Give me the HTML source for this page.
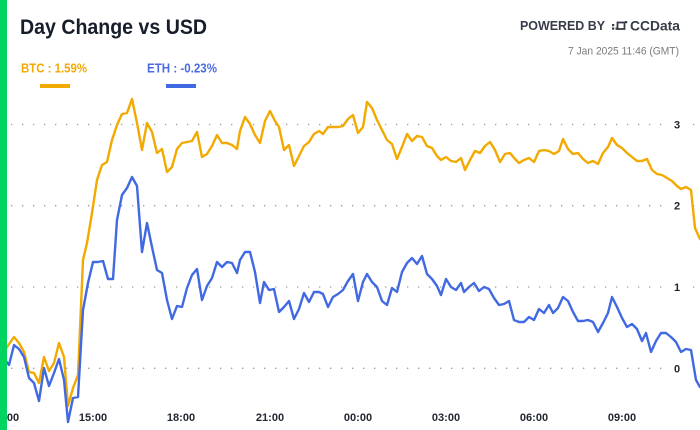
<!DOCTYPE html>
<html>
<head>
<meta charset="utf-8">
<style>
  html, body { margin: 0; padding: 0; background: #ffffff; }
  body { width: 700px; height: 430px; overflow: hidden; }
  svg { display: block; font-family: "Liberation Sans", "DejaVu Sans", sans-serif; }
</style>
</head>
<body>
<svg width="700" height="430" viewBox="0 0 700 430" xmlns="http://www.w3.org/2000/svg">
  <rect x="0" y="0" width="700" height="430" fill="#ffffff"/>

  <!-- Title -->
  <text x="20" y="34" font-size="21" font-weight="bold" fill="#161d2b" textLength="187" lengthAdjust="spacingAndGlyphs">Day Change vs USD</text>

  <!-- Powered by -->
  <text x="520" y="30" font-size="12.5" font-weight="bold" fill="#363c48" textLength="85" lengthAdjust="spacingAndGlyphs">POWERED BY</text>
  <g fill="#363c48">
    <rect x="612" y="27.5" width="2.2" height="2.2"/>
    <rect x="615.5" y="27.5" width="2.2" height="2.2"/>
    <rect x="612" y="24" width="2.2" height="2.2"/>
    <rect x="625" y="21" width="2.2" height="2.2"/>
  </g>
  <rect x="617.5" y="22.5" width="7" height="6.5" fill="none" stroke="#363c48" stroke-width="1.8"/>
  <text x="630" y="30.5" font-size="14" font-weight="bold" fill="#363c48" textLength="50" lengthAdjust="spacingAndGlyphs">CCData</text>
  <text x="568" y="54.5" font-size="11" fill="#7a7a7a" textLength="111" lengthAdjust="spacingAndGlyphs">7 Jan 2025 11:46 (GMT)</text>

  <!-- Legend -->
  <text x="21" y="72.5" font-size="12.5" font-weight="bold" fill="#f2a900" textLength="66" lengthAdjust="spacingAndGlyphs">BTC : 1.59%</text>
  <rect x="40" y="84" width="30" height="4" fill="#f2a900"/>
  <text x="147" y="72.5" font-size="12.5" font-weight="bold" fill="#4a6be0" textLength="70" lengthAdjust="spacingAndGlyphs">ETH : -0.23%</text>
  <rect x="166" y="84" width="30" height="4" fill="#4169e1"/>

  <!-- Grid -->
  <g stroke="#9a9a9a" stroke-width="1.3" stroke-dasharray="1.3 9.7">
    <line x1="11" y1="124.5" x2="700" y2="124.5"/>
    <line x1="11" y1="205.7" x2="700" y2="205.7"/>
    <line x1="11" y1="287" x2="700" y2="287"/>
    <line x1="11" y1="368.3" x2="700" y2="368.3"/>
  </g>
  <g fill="#ffffff">
    <rect x="670" y="118" width="14" height="13"/>
    <rect x="670" y="199" width="14" height="13"/>
    <rect x="670" y="280" width="14" height="13"/>
    <rect x="670" y="362" width="14" height="13"/>
  </g>
  <g font-size="11" font-weight="bold" fill="#222831" text-anchor="middle">
    <text x="677" y="128.5">3</text>
    <text x="677" y="209.7">2</text>
    <text x="677" y="291">1</text>
    <text x="677" y="372.3">0</text>
  </g>

  <!-- BTC -->
  <polyline fill="none" stroke="#f2a900" stroke-width="2.4" stroke-linejoin="round" stroke-linecap="round"
    points="5,350 14,337 19,343 24,352 29,372 34,373 39,383 44,357 49,371 54,363 59,343 64,357 68,406 73,388 78,375 83,260 87,243 92,213 97,180 102,165 107,162 112,140 117,125 122,114 127,113 132,99 137,123 142,150 147,123 152,132 157,153 162,149 167,172 172,167 177,149 182,143 187,142 192,141 197,132 202,157 207,154 212,146 217,135 222,143 227,143 232,145 237,149 240,131 245,117 250,124 255,135 260,143 265,121 270,111 275,121 279,127 284,150 289,145 294,166 299,156 304,146 309,142 314,134 319,131 323,134 328,127 333,127 338,127 343,126 348,119 353,115 358,133 363,127 367,102 372,108 377,120 382,130 387,140 392,144 397,159 402,147 407,134 412,141 417,136 422,137 427,146 432,148 437,156 441,160 446,157 451,161 456,162 461,158 465,170 470,160 475,151 480,153 485,146 490,142 495,150 500,162 505,154 510,153 515,159 519,163 524,160 529,158 534,162 539,151 544,150 549,151 554,154 559,151 563,139 568,149 573,154 578,153 583,159 588,163 593,161 598,164 603,153 608,147 612,138 617,145 622,148 627,153 632,157 637,161 642,161 647,159 652,170 657,174 662,175 667,178 672,181 677,186 681,189 686,187 691,190 695,228 700,239"/>

  <!-- ETH -->
  <polyline fill="none" stroke="#4169e1" stroke-width="2.4" stroke-linejoin="round" stroke-linecap="round"
    points="5,360 9,365 14,345 19,349 24,357 29,378 34,383 39,401 44,368 49,386 54,373 59,359 64,380 68,422 73,398 78,397 83,310 88,283 93,262 98,262 103,261 108,279 113,279 117,220 122,195 127,188 132,177 137,186 142,252 147,223 152,247 157,270 162,273 167,300 172,319 177,306 182,307 187,288 192,275 197,269 202,300 207,286 212,278 217,262 222,267 227,262 232,263 237,273 240,260 245,252 250,252 255,272 260,303 264,282 269,290 274,289 279,312 284,307 289,301 294,319 299,309 304,293 309,302 314,292 319,292 323,294 328,307 333,297 338,294 343,290 348,281 353,274 358,301 363,282 367,274 372,282 377,287 382,301 387,305 392,288 397,292 402,272 407,263 412,258 417,264 422,256 427,274 432,279 437,286 441,295 446,279 451,287 456,290 461,283 464,292 469,287 474,283 479,291 484,287 489,289 494,298 499,305 504,304 509,301 514,320 519,322 524,322 529,317 534,320 539,309 544,313 549,305 553,313 558,308 563,297 568,301 573,312 578,321 583,321 588,320 593,322 598,332 603,323 608,313 612,297 617,307 622,318 627,327 632,324 637,329 642,341 646,333 651,352 656,341 661,333 666,333 671,337 676,342 681,352 686,349 691,350 696,380 700,387"/>

  <!-- X axis labels -->
  <g font-size="11" font-weight="bold" fill="#222831" text-anchor="middle">
    <text x="5" y="421">12:00</text>
    <text x="93" y="421">15:00</text>
    <text x="181" y="421">18:00</text>
    <text x="270" y="421">21:00</text>
    <text x="358" y="421">00:00</text>
    <text x="446" y="421">03:00</text>
    <text x="534" y="421">06:00</text>
    <text x="622" y="421">09:00</text>
  </g>

  <!-- Green left bar -->
  <rect x="0" y="0" width="7" height="430" fill="#02d462"/>
</svg>
</body>
</html>
